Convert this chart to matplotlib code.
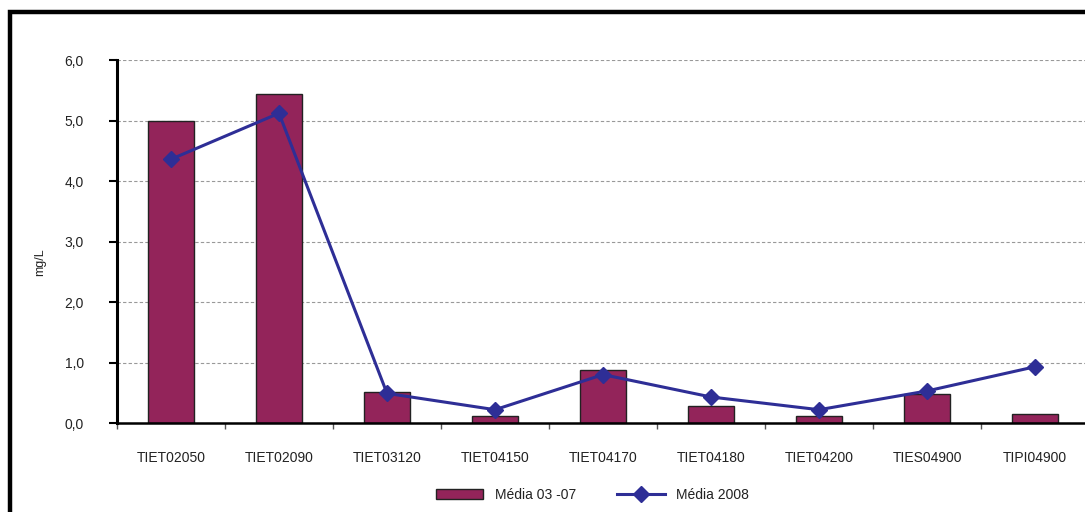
import numpy as np
import matplotlib.pyplot as plt
from matplotlib.patches import Rectangle

plt.rcParams['font.family'] = ['Liberation Sans', 'DejaVu Sans']

# Pontos de monitoramento e concentrações (mg/L)
pontos = ["TIET02050", "TIET02090", "TIET03120", "TIET04150", "TIET04170",
          "TIET04180", "TIET04200", "TIES04900", "TIPI04900"]
media_03_07 = [5.00, 5.44, 0.51, 0.12, 0.88, 0.28, 0.12, 0.48, 0.15]
media_2008 = [4.36, 5.12, 0.49, 0.22, 0.80, 0.43, 0.22, 0.53, 0.93]
y_ticks = [0.0, 1.0, 2.0, 3.0, 4.0, 5.0, 6.0]
y_labels = ["0,0", "1,0", "2,0", "3,0", "4,0", "5,0", "6,0"]

bar_color = "#93245A"
line_color = "#2E2E96"
text_color = "#222222"

fig = plt.figure(figsize=(10.85, 5.12), dpi=100)
ax = fig.add_axes([0.1078, 0.1738, 0.896, 0.709])

x = np.arange(len(pontos))
barras = ax.bar(x, media_03_07, width=0.42, color=bar_color,
                edgecolor="#222222", linewidth=1.0, label="Média 03 -07",
                zorder=2)
linha, = ax.plot(x, media_2008, color=line_color, linewidth=2.2, marker="D",
                 markersize=8.5, markerfacecolor=line_color,
                 markeredgecolor=line_color, label="Média 2008", zorder=3)

ax.set_xlim(-0.5, len(pontos) - 0.5)
ax.set_ylim(0, 6)
ax.set_yticks(y_ticks)
ax.set_yticklabels(y_labels)
ax.set_xticks(x)
ax.set_xticklabels(pontos)
ax.set_xticks(np.arange(len(pontos) + 1) - 0.5, minor=True)

ax.tick_params(axis="y", direction="out", length=6, width=1.5, color="black",
               labelsize=10, labelcolor=text_color, pad=18)
ax.tick_params(axis="x", which="major", length=0, labelsize=10,
               labelcolor=text_color, pad=20)
ax.tick_params(axis="x", which="minor", direction="out", length=4,
               width=1.0, color="#555555")

ax.yaxis.grid(True, linestyle=(0, (3, 2)), color="#999999", linewidth=0.8)
ax.set_axisbelow(True)

for side in ["top", "right"]:
    ax.spines[side].set_visible(False)
ax.spines["left"].set_linewidth(2.2)
ax.spines["bottom"].set_linewidth(1.8)
ax.spines["left"].set_zorder(4)

ax.set_ylabel("mg/L", fontsize=9, color=text_color)
ax.yaxis.set_label_coords(-0.073, 0.443)

fig.legend(handles=[barras, linha], loc="center",
           bbox_to_anchor=(0.546, 0.033), ncol=2, frameon=False,
           fontsize=10, handlelength=3.4, handleheight=0.7,
           handletextpad=0.8, columnspacing=3.0, labelcolor=text_color)

# moldura preta no canto superior esquerdo
fig.patches.append(Rectangle((10 / 1085, -0.1), 1.2, 1.1 - 12 / 512,
                             transform=fig.transFigure, fill=False,
                             edgecolor="black", linewidth=3.2, zorder=10))

fig.savefig("out.png", dpi=100)
